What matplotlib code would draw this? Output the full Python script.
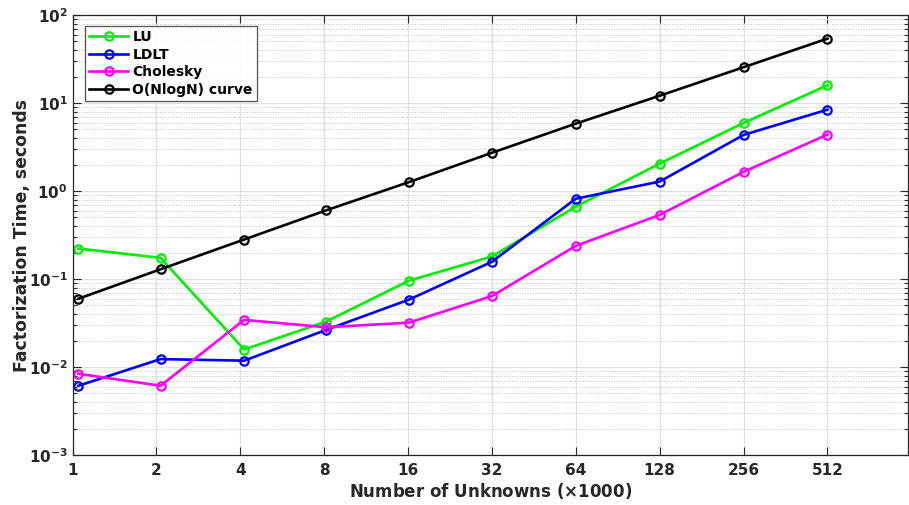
import numpy as np
import matplotlib.pyplot as plt
from matplotlib.ticker import FixedLocator, LogLocator, NullFormatter

# Problem sizes (thousands of unknowns) and factorization times in seconds
n_unknowns = [1.05, 2.07, 4.13, 8.13, 16.1, 32, 64, 128, 256, 512]
t_lu = [0.222, 0.174, 0.0158, 0.0328, 0.0955, 0.180, 0.664, 2.05, 5.93, 15.9]
t_ldlt = [0.00612, 0.0123, 0.0118, 0.0264, 0.0582, 0.157, 0.817, 1.28, 4.34, 8.40]
t_chol = [0.00838, 0.00612, 0.0343, 0.0283, 0.0319, 0.0640, 0.238, 0.535, 1.65, 4.38]
t_nlogn = [0.0597, 0.129, 0.281, 0.603, 1.26, 2.72, 5.83, 12.1, 25.5, 53.9]

xticks = [1, 2, 4, 8, 16, 32, 64, 128, 256, 512]
yticks = [1e-3, 1e-2, 1e-1, 1e0, 1e1, 1e2]
ylabels = [r"$\mathbf{10^{-3}}$", r"$\mathbf{10^{-2}}$", r"$\mathbf{10^{-1}}$",
           r"$\mathbf{10^{0}}$", r"$\mathbf{10^{1}}$", r"$\mathbf{10^{2}}$"]

series = [
    ("LU", t_lu, "#00ee00"),
    ("LDLT", t_ldlt, "#0000ff"),
    ("Cholesky", t_chol, "#ff00ff"),
    ("O(NlogN) curve", t_nlogn, "#000000"),
]


def main():
    plt.rcParams["font.family"] = "DejaVu Sans"
    plt.rcParams["font.weight"] = "bold"
    plt.rcParams["mathtext.fontset"] = "dejavusans"

    fig = plt.figure(figsize=(9.09, 5.05), dpi=100)
    ax = fig.add_axes([72.5 / 909, 50 / 505, 836 / 909, 440 / 505])

    for name, vals, col in series:
        ax.plot(n_unknowns, vals, "-o", color=col, lw=1.9, ms=6,
                mfc="none", mew=1.6, label=name)

    ax.set_xscale("log", base=2)
    ax.set_yscale("log")
    ax.set_xlim(1, 1000)
    ax.set_ylim(1e-3, 1e2)

    ax.xaxis.set_major_locator(FixedLocator(xticks))
    ax.set_xticklabels([str(v) for v in xticks])
    ax.xaxis.set_minor_locator(FixedLocator([]))
    ax.yaxis.set_major_locator(FixedLocator(yticks))
    ax.set_yticklabels(ylabels)
    ax.yaxis.set_minor_locator(LogLocator(base=10, subs=np.arange(2, 10)))
    ax.yaxis.set_minor_formatter(NullFormatter())

    ax.tick_params(which="both", direction="in", top=True, right=True,
                   colors="#262626", labelcolor="#262626")
    ax.tick_params(which="major", length=6, width=0.8, labelsize=11)
    ax.tick_params(which="minor", length=3, width=0.8)
    ax.tick_params(axis="x", pad=6)
    for lbl in ax.get_xticklabels() + ax.get_yticklabels():
        lbl.set_fontweight("bold")

    ax.grid(which="major", color="#e0e0e0", lw=0.9, ls="-")
    ax.grid(which="minor", axis="y", color="#cccccc", lw=0.7, ls=(0, (1.2, 1.5)))
    ax.set_axisbelow(True)
    for sp in ax.spines.values():
        sp.set_color("#262626")
        sp.set_linewidth(0.9)

    ax.set_xlabel(r"Number of Unknowns ($\times$1000)", fontsize=12,
                  fontweight="bold", color="#262626", labelpad=2)
    ax.set_ylabel("Factorization Time, seconds", fontsize=12.4,
                  fontweight="bold", color="#262626", labelpad=-2)

    leg = ax.legend(loc="upper left", bbox_to_anchor=(0.015, 0.975),
                    fontsize=10, frameon=True, fancybox=False,
                    edgecolor="#262626", handlelength=2.8, handletextpad=0.3,
                    borderpad=0.3, labelspacing=0.25, borderaxespad=0)
    leg.get_frame().set_linewidth(0.9)
    for t in leg.get_texts():
        t.set_fontweight("bold")

    fig.savefig("out.png", dpi=100)


if __name__ == "__main__":
    main()
